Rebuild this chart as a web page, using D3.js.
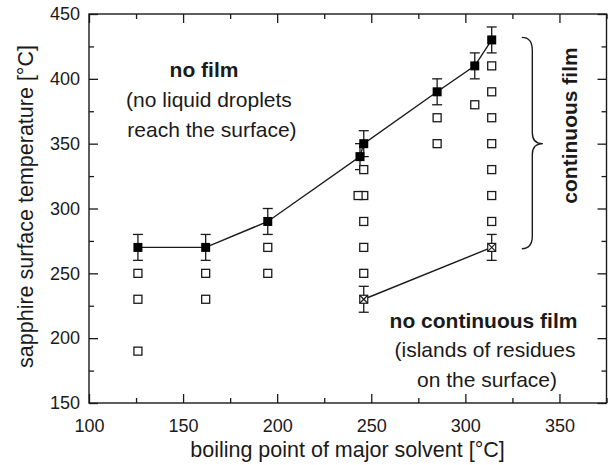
<!DOCTYPE html>
<html>
<head>
<meta charset="utf-8">
<script src="https://cdn.jsdelivr.net/npm/d3@7/dist/d3.min.js"></script>
<style>
  html, body { margin: 0; padding: 0; background: #fff; }
  svg { display: block; }
  text { font-family: "Liberation Sans", Arial, Helvetica, sans-serif; fill: #1a1a1a; }
</style>
</head>
<body>
<svg id="chart" width="611" height="465"></svg>
<script>
// ---- data ----
const filledX = [126, 162, 195, 244, 246, 285, 305, 314];
const filledY = [270, 270, 290, 340, 350, 390, 410, 430];
const filledErr = [10, 10, 10, 10, 10, 10, 10, 10];

const openX = [126, 126, 126, 162, 162, 195, 195, 246, 246, 246, 246, 246, 243, 285, 285, 305, 314, 314, 314, 314, 314, 314, 314];
const openY = [250, 230, 190, 250, 230, 270, 250, 330, 310, 290, 270, 250, 310, 370, 350, 380, 410, 390, 370, 350, 330, 310, 290];

const crossX = [246, 314];
const crossY = [230, 270];
const crossErr = [10, 10];

const xMajorTicks = [100, 150, 200, 250, 300, 350];
const xMinorTicks = [125, 175, 225, 275, 325, 375];
const yMajorTicks = [150, 200, 250, 300, 350, 400, 450];
const yMinorTicks = [175, 225, 275, 325, 375, 425];

const xTitle = "boiling point of major solvent [°C]";
const yTitle = "sapphire surface temperature [°C]";

// ---- layout ----
const svg = d3.select("#chart");
const X0 = 89, X1 = 606.5, Y0 = 403, Y1 = 14;
const x = d3.scaleLinear().domain([100, 375]).range([X0, X1]);
const y = d3.scaleLinear().domain([150, 450]).range([Y0, Y1]);
const ink = "#1a1a1a";

// axes (inward ticks on all four sides)
function styleAxis(g) {
  g.select(".domain").remove();
  g.selectAll(".tick line").attr("stroke", ink).attr("stroke-width", 1.3);
  g.selectAll(".tick text").attr("font-size", 18).attr("fill", ink)
    .attr("font-family", '"Liberation Sans", Arial, Helvetica, sans-serif');
}
svg.append("g").attr("transform", `translate(0,${Y0})`)
  .call(d3.axisBottom(x).tickValues(xMajorTicks).tickSize(-9).tickPadding(16).tickFormat(d3.format("d"))).call(styleAxis);
svg.append("g").attr("transform", `translate(0,${Y0})`)
  .call(d3.axisBottom(x).tickValues(xMinorTicks).tickSize(-5).tickFormat("")).call(styleAxis);
svg.append("g").attr("transform", `translate(0,${Y1})`)
  .call(d3.axisTop(x).tickValues(xMajorTicks).tickSize(-9).tickFormat("")).call(styleAxis);
svg.append("g").attr("transform", `translate(0,${Y1})`)
  .call(d3.axisTop(x).tickValues(xMinorTicks).tickSize(-5).tickFormat("")).call(styleAxis);
svg.append("g").attr("transform", `translate(${X0},0)`)
  .call(d3.axisLeft(y).tickValues(yMajorTicks).tickSize(-9).tickPadding(9).tickFormat(d3.format("d"))).call(styleAxis);
svg.append("g").attr("transform", `translate(${X0},0)`)
  .call(d3.axisLeft(y).tickValues(yMinorTicks).tickSize(-5).tickFormat("")).call(styleAxis);
svg.append("g").attr("transform", `translate(${X1},0)`)
  .call(d3.axisRight(y).tickValues(yMajorTicks).tickSize(-9).tickFormat("")).call(styleAxis);
svg.append("g").attr("transform", `translate(${X1},0)`)
  .call(d3.axisRight(y).tickValues(yMinorTicks).tickSize(-5).tickFormat("")).call(styleAxis);

// frame
svg.append("rect").attr("x", X0).attr("y", Y1).attr("width", X1 - X0).attr("height", Y0 - Y1)
  .attr("fill", "none").attr("stroke", ink).attr("stroke-width", 1.4);

// axis titles
svg.append("text").attr("x", 347.5).attr("y", 456.5).attr("text-anchor", "middle")
  .attr("font-size", 21.5).text(xTitle);
svg.append("text").attr("transform", "translate(33,206.5) rotate(-90)").attr("text-anchor", "middle")
  .attr("font-size", 21.5).text(yTitle);

// lines
const line = d3.line().x(d => x(d[0])).y(d => y(d[1]));
svg.append("path").datum(d3.zip(filledX, filledY)).attr("d", line)
  .attr("fill", "none").attr("stroke", ink).attr("stroke-width", 1.4);
svg.append("path").datum(d3.zip(crossX, crossY)).attr("d", line)
  .attr("fill", "none").attr("stroke", ink).attr("stroke-width", 1.4);

// error bars
function errorBars(xs, ys, es) {
  const g = svg.append("g").attr("stroke", ink).attr("stroke-width", 1.3);
  xs.forEach((xv, i) => {
    const cx = x(xv), t = y(ys[i] + es[i]), b = y(ys[i] - es[i]);
    g.append("line").attr("x1", cx).attr("x2", cx).attr("y1", t).attr("y2", b);
    g.append("line").attr("x1", cx - 5).attr("x2", cx + 5).attr("y1", t).attr("y2", t);
    g.append("line").attr("x1", cx - 5).attr("x2", cx + 5).attr("y1", b).attr("y2", b);
  });
}
errorBars(filledX, filledY, filledErr);
errorBars(crossX, crossY, crossErr);

// open squares
const os = 8;
svg.append("g").selectAll("rect").data(d3.zip(openX, openY)).join("rect")
  .attr("x", d => x(d[0]) - os / 2).attr("y", d => y(d[1]) - os / 2)
  .attr("width", os).attr("height", os)
  .attr("fill", "#fff").attr("stroke", ink).attr("stroke-width", 1.3);

// filled squares
const fs = 9;
svg.append("g").selectAll("rect").data(d3.zip(filledX, filledY)).join("rect")
  .attr("x", d => x(d[0]) - fs / 2).attr("y", d => y(d[1]) - fs / 2)
  .attr("width", fs).attr("height", fs).attr("fill", "#000");

// crossed squares
const cg = svg.append("g").attr("stroke", ink).attr("stroke-width", 1.2);
d3.zip(crossX, crossY).forEach(d => {
  const cx = x(d[0]), cy = y(d[1]), h = os / 2;
  cg.append("rect").attr("x", cx - h).attr("y", cy - h).attr("width", os).attr("height", os).attr("fill", "#fff");
  cg.append("line").attr("x1", cx - h).attr("y1", cy - h).attr("x2", cx + h).attr("y2", cy + h);
  cg.append("line").attr("x1", cx - h).attr("y1", cy + h).attr("x2", cx + h).attr("y2", cy - h);
});

// curly brace
const bx = x(330), bs = bx + 10.5, bt = bs + 10.5;
const yTop = y(432), yBot = y(269), yTip = y(350);
const p = d3.path();
p.moveTo(bx, yTop);
p.quadraticCurveTo(bs, yTop, bs, yTop + 13);
p.lineTo(bs, yTip - 11);
p.quadraticCurveTo(bs, yTip, bt, yTip);
p.quadraticCurveTo(bs, yTip, bs, yTip + 11);
p.lineTo(bs, yBot - 13);
p.quadraticCurveTo(bs, yBot, bx, yBot);
svg.append("path").attr("d", p.toString()).attr("fill", "none").attr("stroke", ink).attr("stroke-width", 1.4);

// annotations
svg.append("text").attr("x", 204).attr("y", 77).attr("text-anchor", "middle")
  .attr("font-size", 21).attr("font-weight", "bold").text("no film");
svg.append("text").attr("x", 209).attr("y", 106.5).attr("text-anchor", "middle")
  .attr("font-size", 21).text("(no liquid droplets");
svg.append("text").attr("x", 212).attr("y", 136.5).attr("text-anchor", "middle")
  .attr("font-size", 21).text("reach the surface)");

svg.append("text").attr("x", 483.5).attr("y", 328).attr("text-anchor", "middle")
  .attr("font-size", 21).attr("font-weight", "bold").text("no continuous film");
svg.append("text").attr("x", 485).attr("y", 357).attr("text-anchor", "middle")
  .attr("font-size", 21).text("(islands of residues");
svg.append("text").attr("x", 487).attr("y", 387).attr("text-anchor", "middle")
  .attr("font-size", 21).text("on the surface)");

svg.append("text").attr("transform", "translate(577,125.5) rotate(-90)").attr("text-anchor", "middle")
  .attr("font-size", 21).attr("font-weight", "bold").text("continuous film");
</script>
</body>
</html>
